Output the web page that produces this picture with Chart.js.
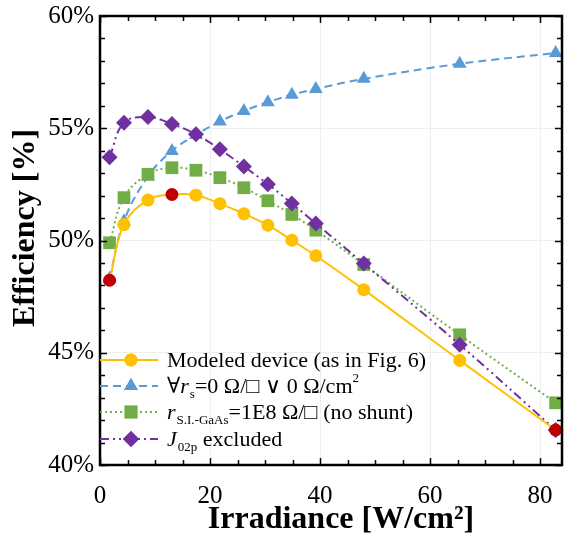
<!DOCTYPE html>
<html>
<head>
<meta charset="utf-8">
<style>
  html, body { margin: 0; padding: 0; background: #fff; overflow: hidden; }
  #wrap { width: 564px; height: 539px; position: relative; overflow: hidden; }
</style>
<script src="https://cdn.jsdelivr.net/npm/chart.js@4.4.9/dist/chart.umd.min.js"></script>
</head>
<body>
<div id="wrap"><canvas id="effChart" width="571" height="539"></canvas></div>
<script>
// 데이터
const irradiance = [1.74, 4.36, 8.72, 13.08, 17.44, 21.8, 26.16, 30.52, 34.88, 39.24, 47.96, 65.4, 82.84];
const modeled    = [48.23, 50.71, 51.80, 52.05, 52.02, 51.64, 51.19, 50.68, 50.01, 49.32, 47.81, 44.66, 41.56];
const noSeriesR  = [48.30, 50.86, 52.85, 53.99, 54.70, 55.30, 55.77, 56.16, 56.49, 56.75, 57.20, 57.87, 58.35];
const noShunt    = [49.90, 51.91, 52.95, 53.24, 53.13, 52.80, 52.35, 51.77, 51.16, 50.46, 48.93, 45.80, 42.77];
const noJ02p     = [53.71, 55.24, 55.50, 55.19, 54.73, 54.06, 53.30, 52.51, 51.65, 50.76, 48.97, 45.36, 41.56];
const redIdx     = [0, 3, 12];   // 빨간 점으로 표시되는 점

const xTicks = [0, 20, 40, 60, 80];
const yTicks = [40, 45, 50, 55, 60];

const SERIF = "'Liberation Serif', 'Times New Roman', 'DejaVu Serif', serif";
const YELLOW = '#FFC000', RED = '#C00000', BLUE = '#5B9BD5', GREEN = '#70AD47', PURPLE = '#7030A0';

const pts = arr => arr.map((v, i) => ({ x: irradiance[i], y: v }));

// 범례 텍스트 조각 (t: 글자, s: 'sub' | 'sup', it: 기울임)
const legendRows = [
  { ds: 0, parts: [{ t: 'Modeled device (as in Fig. 6)' }] },
  { ds: 1, parts: [{ t: '\u2200' }, { t: 'r', it: true }, { t: 's', s: 'sub' }, { t: '=0 \u03A9/\u25A1 \u2228 0 \u03A9/cm' }, { t: '2', s: 'sup' }] },
  { ds: 2, parts: [{ t: 'r', it: true }, { t: 'S.I.-GaAs', s: 'sub' }, { t: '=1E8 \u03A9/\u25A1 (no shunt)' }] },
  { ds: 3, parts: [{ t: 'J', it: true }, { t: '02p', s: 'sub' }, { t: ' excluded' }] }
];

// 축 테두리 + 안쪽 눈금
const framePlugin = {
  id: 'frame',
  afterDatasetsDraw(chart) {
    const { ctx, chartArea: a, scales: { x, y } } = chart;
    ctx.save();
    ctx.strokeStyle = '#000';
    ctx.lineWidth = 1.5;
    ctx.beginPath();
    for (let v = 0; v <= 84; v += 5) {
      const px = Math.round(x.getPixelForValue(v)) + 0.5;
      const len = v % 20 === 0 ? 7 : 5;
      ctx.moveTo(px, a.bottom); ctx.lineTo(px, a.bottom - len);
      ctx.moveTo(px, a.top); ctx.lineTo(px, a.top + len);
    }
    for (let v = 40; v <= 60; v += 1) {
      const py = Math.round(y.getPixelForValue(v)) + 0.5;
      const len = v % 5 === 0 ? 7 : 5;
      ctx.moveTo(a.left, py); ctx.lineTo(a.left + len, py);
      ctx.moveTo(a.right, py); ctx.lineTo(a.right - len, py);
    }
    ctx.stroke();
    ctx.lineWidth = 2.5;
    ctx.strokeRect(a.left, a.top, a.right - a.left, a.bottom - a.top);
    ctx.restore();
  }
};

// 축 제목 + 범례
const legendPlugin = {
  id: 'inLegend',
  afterDraw(chart) {
    const ctx = chart.ctx;
    ctx.save();
    // 축 제목
    ctx.fillStyle = '#000';
    ctx.textAlign = 'center';
    ctx.textBaseline = 'middle';
    ctx.font = 'bold 32px ' + SERIF;
    ctx.fillText('Irradiance [W/cm\u00B2]', 341, 520);
    ctx.save();
    ctx.translate(26, 228);
    ctx.rotate(-Math.PI / 2);
    ctx.fillText('Efficiency [%]', 0, 0);
    ctx.restore();
    ctx.textAlign = 'left';

    const x0 = 100, x1 = 158, xm = 131, xt = 167;
    const rowY = [360, 386, 412, 439];
    legendRows.forEach((row, r) => {
      const ds = chart.data.datasets[row.ds];
      const yy = rowY[r];
      ctx.strokeStyle = ds.borderColor;
      ctx.lineWidth = ds.borderWidth;
      ctx.setLineDash(ds.borderDash || []);
      ctx.beginPath(); ctx.moveTo(x0, yy); ctx.lineTo(x1, yy); ctx.stroke();
      ctx.setLineDash([]);
      ctx.fillStyle = ds.legendColor;
      Chart.helpers.drawPoint(ctx, {
        pointStyle: ds.pointStyle, radius: ds.pointRadius, rotation: 0, borderWidth: 0
      }, xm, yy);
      ctx.fill();
      // 텍스트
      let cx = xt;
      const base = yy + 7;
      ctx.fillStyle = '#000';
      ctx.textBaseline = 'alphabetic';
      row.parts.forEach(p => {
        let size = 22, dy = 0;
        if (p.s === 'sub') { size = 13; dy = 5; }
        if (p.s === 'sup') { size = 13; dy = -11; }
        ctx.font = (p.it ? 'italic ' : '') + size + 'px ' + SERIF;
        ctx.fillText(p.t, cx, base + dy);
        cx += ctx.measureText(p.t).width + (p.it ? 1 : 0);
      });
    });
    ctx.restore();
  }
};

function effChart() {
  const ctx = document.getElementById('effChart').getContext('2d');

  const common = { showLine: true, tension: 0.4, borderWidth: 2, clip: false, pointBorderWidth: 0 };

  const datasets = [
    Object.assign({}, common, {
      label: 'Modeled device',
      data: pts(modeled),
      borderColor: YELLOW,
      legendColor: YELLOW,
      pointBackgroundColor: modeled.map((v, i) => redIdx.includes(i) ? RED : YELLOW),
      pointStyle: 'circle', pointRadius: 6.5,
      order: 0
    }),
    Object.assign({}, common, {
      label: 'no series R',
      data: pts(noSeriesR),
      borderColor: BLUE, legendColor: BLUE, pointBackgroundColor: BLUE,
      borderDash: [8, 5],
      pointStyle: 'triangle', pointRadius: 8,
      order: 3
    }),
    Object.assign({}, common, {
      label: 'no shunt',
      data: pts(noShunt),
      borderColor: GREEN, legendColor: GREEN, pointBackgroundColor: GREEN,
      borderDash: [2, 3],
      pointStyle: 'rect', pointRadius: 9,
      order: 2
    }),
    Object.assign({}, common, {
      label: 'J02p excluded',
      data: pts(noJ02p),
      borderColor: PURPLE, legendColor: PURPLE, pointBackgroundColor: PURPLE,
      borderDash: [9, 4, 2, 4, 2, 4],
      pointStyle: 'rectRot', pointRadius: 8,
      order: 1
    })
  ];

  new Chart(ctx, {
    type: 'scatter',
    data: { datasets },
    options: {
      responsive: false,
      animation: false,
      layout: { padding: { top: 16, right: 2, left: 0, bottom: 0 } },
      plugins: { legend: { display: false }, tooltip: { enabled: false } },
      scales: {
        x: {
          type: 'linear', min: 0, max: 84,
          afterFit: s => { s.height = 74; s.paddingLeft = 0; s.paddingRight = 0; },
          afterBuildTicks: s => { s.ticks = xTicks.map(v => ({ value: v })); },
          border: { display: false },
          grid: { color: '#eeeeee', lineWidth: 1, drawTicks: false },
          ticks: { color: '#000', padding: 16, font: { family: SERIF, size: 25 } },
          title: { display: false }
        },
        y: {
          type: 'linear', min: 40, max: 60,
          afterFit: s => { s.width = 100; s.paddingTop = 0; s.paddingBottom = 0; },
          afterBuildTicks: s => { s.ticks = yTicks.map(v => ({ value: v })); },
          border: { display: false },
          grid: { color: '#eeeeee', lineWidth: 1, drawTicks: false },
          ticks: { color: '#000', padding: 6, font: { family: SERIF, size: 25 }, callback: v => v + '%' },
          title: { display: false }
        }
      }
    },
    plugins: [framePlugin, legendPlugin]
  });
}

effChart();
</script>
</body>
</html>
